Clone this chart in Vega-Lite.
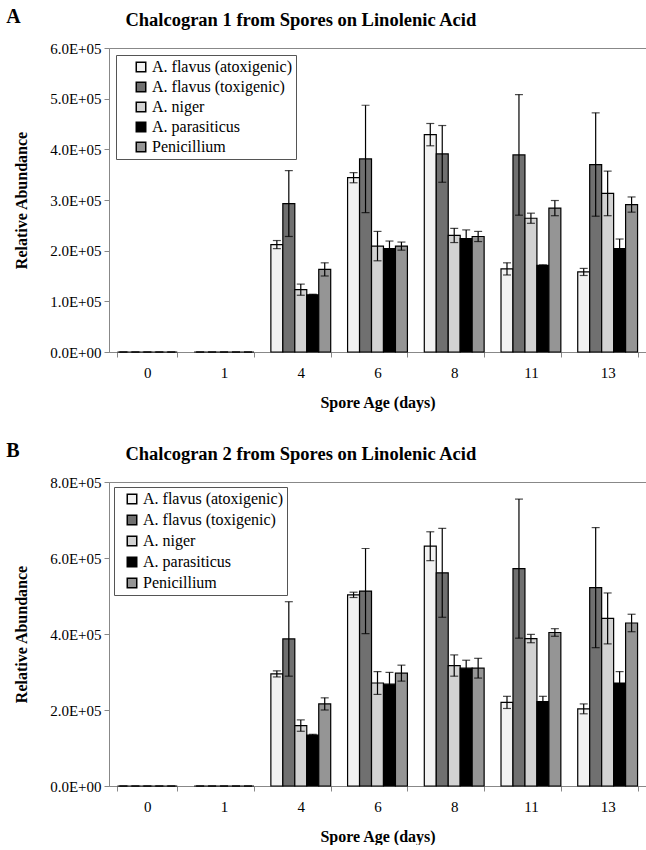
{
  "$schema": "https://vega.github.io/schema/vega-lite/v6.json",
  "background": "white",
  "padding": {"left": 6, "top": 7, "right": 0, "bottom": 0},
  "datasets": {
    "a": [
      {"day": "0", "species": "A. flavus (atoxigenic)", "value": 0, "err": 0},
      {"day": "0", "species": "A. flavus (toxigenic)", "value": 0, "err": 0},
      {"day": "0", "species": "A. niger", "value": 0, "err": 0},
      {"day": "0", "species": "A. parasiticus", "value": 0, "err": 0},
      {"day": "0", "species": "Penicillium", "value": 0, "err": 0},
      {"day": "1", "species": "A. flavus (atoxigenic)", "value": 0, "err": 0},
      {"day": "1", "species": "A. flavus (toxigenic)", "value": 0, "err": 0},
      {"day": "1", "species": "A. niger", "value": 0, "err": 0},
      {"day": "1", "species": "A. parasiticus", "value": 0, "err": 0},
      {"day": "1", "species": "Penicillium", "value": 0, "err": 0},
      {"day": "4", "species": "A. flavus (atoxigenic)", "value": 212000, "err": 8000},
      {"day": "4", "species": "A. flavus (toxigenic)", "value": 293000, "err": 65000},
      {"day": "4", "species": "A. niger", "value": 123000, "err": 11000},
      {"day": "4", "species": "A. parasiticus", "value": 113000, "err": 1000},
      {"day": "4", "species": "Penicillium", "value": 163000, "err": 13000},
      {"day": "6", "species": "A. flavus (atoxigenic)", "value": 344000, "err": 10000},
      {"day": "6", "species": "A. flavus (toxigenic)", "value": 381000, "err": 106000},
      {"day": "6", "species": "A. niger", "value": 209000, "err": 29000},
      {"day": "6", "species": "A. parasiticus", "value": 204000, "err": 15000},
      {"day": "6", "species": "Penicillium", "value": 209000, "err": 8000},
      {"day": "8", "species": "A. flavus (atoxigenic)", "value": 429000, "err": 22000},
      {"day": "8", "species": "A. flavus (toxigenic)", "value": 391000, "err": 56000},
      {"day": "8", "species": "A. niger", "value": 230000, "err": 14000},
      {"day": "8", "species": "A. parasiticus", "value": 224000, "err": 17000},
      {"day": "8", "species": "Penicillium", "value": 228000, "err": 10000},
      {"day": "11", "species": "A. flavus (atoxigenic)", "value": 164000, "err": 12000},
      {"day": "11", "species": "A. flavus (toxigenic)", "value": 389000, "err": 119000},
      {"day": "11", "species": "A. niger", "value": 264000, "err": 10000},
      {"day": "11", "species": "A. parasiticus", "value": 171000, "err": 1000},
      {"day": "11", "species": "Penicillium", "value": 284000, "err": 15000},
      {"day": "13", "species": "A. flavus (atoxigenic)", "value": 158000, "err": 7000},
      {"day": "13", "species": "A. flavus (toxigenic)", "value": 370000, "err": 102000},
      {"day": "13", "species": "A. niger", "value": 313000, "err": 44000},
      {"day": "13", "species": "A. parasiticus", "value": 204000, "err": 19000},
      {"day": "13", "species": "Penicillium", "value": 291000, "err": 15000}
    ],
    "b": [
      {"day": "0", "species": "A. flavus (atoxigenic)", "value": 0, "err": 0},
      {"day": "0", "species": "A. flavus (toxigenic)", "value": 0, "err": 0},
      {"day": "0", "species": "A. niger", "value": 0, "err": 0},
      {"day": "0", "species": "A. parasiticus", "value": 0, "err": 0},
      {"day": "0", "species": "Penicillium", "value": 0, "err": 0},
      {"day": "1", "species": "A. flavus (atoxigenic)", "value": 0, "err": 0},
      {"day": "1", "species": "A. flavus (toxigenic)", "value": 0, "err": 0},
      {"day": "1", "species": "A. niger", "value": 0, "err": 0},
      {"day": "1", "species": "A. parasiticus", "value": 0, "err": 0},
      {"day": "1", "species": "Penicillium", "value": 0, "err": 0},
      {"day": "4", "species": "A. flavus (atoxigenic)", "value": 295000, "err": 8000},
      {"day": "4", "species": "A. flavus (toxigenic)", "value": 387000, "err": 98000},
      {"day": "4", "species": "A. niger", "value": 159000, "err": 15000},
      {"day": "4", "species": "A. parasiticus", "value": 134000, "err": 2000},
      {"day": "4", "species": "Penicillium", "value": 216000, "err": 16000},
      {"day": "6", "species": "A. flavus (atoxigenic)", "value": 503000, "err": 7000},
      {"day": "6", "species": "A. flavus (toxigenic)", "value": 513000, "err": 112000},
      {"day": "6", "species": "A. niger", "value": 271000, "err": 30000},
      {"day": "6", "species": "A. parasiticus", "value": 268000, "err": 31000},
      {"day": "6", "species": "Penicillium", "value": 297000, "err": 21000},
      {"day": "8", "species": "A. flavus (atoxigenic)", "value": 631000, "err": 38000},
      {"day": "8", "species": "A. flavus (toxigenic)", "value": 561000, "err": 117000},
      {"day": "8", "species": "A. niger", "value": 317000, "err": 28000},
      {"day": "8", "species": "A. parasiticus", "value": 310000, "err": 21000},
      {"day": "8", "species": "Penicillium", "value": 310000, "err": 26000},
      {"day": "11", "species": "A. flavus (atoxigenic)", "value": 220000, "err": 16000},
      {"day": "11", "species": "A. flavus (toxigenic)", "value": 572000, "err": 183000},
      {"day": "11", "species": "A. niger", "value": 388000, "err": 11000},
      {"day": "11", "species": "A. parasiticus", "value": 222000, "err": 14000},
      {"day": "11", "species": "Penicillium", "value": 404000, "err": 10000},
      {"day": "13", "species": "A. flavus (atoxigenic)", "value": 203000, "err": 13000},
      {"day": "13", "species": "A. flavus (toxigenic)", "value": 522000, "err": 158000},
      {"day": "13", "species": "A. niger", "value": 441000, "err": 67000},
      {"day": "13", "species": "A. parasiticus", "value": 271000, "err": 30000},
      {"day": "13", "species": "Penicillium", "value": 429000, "err": 23000}
    ]
  },
  "config": {
    "font": "Liberation Serif, Times New Roman, serif",
    "view": {"stroke": "#888", "strokeWidth": 1},
    "axis": {
      "labelFont": "Liberation Serif, Times New Roman, serif", "titleFont": "Liberation Serif, Times New Roman, serif",
      "labelFontSize": 15, "titleFontSize": 16, "titleFontWeight": "bold",
      "labelColor": "black", "titleColor": "black",
      "domainColor": "#888", "tickColor": "#888", "grid": false, "tickSize": 5, "labelOverlap": false
    },
    "title": {"font": "Liberation Serif, Times New Roman, serif", "fontSize": 18.5, "fontWeight": "bold", "color": "black"},
    "legend": {
      "orient": "top-left", "offset": 7, "title": null,
      "strokeColor": "#555", "fillColor": "white", "padding": 4,
      "labelFont": "Liberation Serif, Times New Roman, serif", "labelFontSize": 16, "labelColor": "black",
      "symbolType": "square", "symbolSize": 90, "symbolStrokeColor": "black", "symbolStrokeWidth": 1.5,
      "rowPadding": 5, "labelOffset": 3, "symbolOpacity": 1, "labelLimit": 400
    }
  },
  "spacing": 30,
  "vconcat": [
    {
      "title": {"text": "A", "anchor": "start", "frame": "bounds", "offset": -17, "fontSize": 20, "dx": -7},
      "vconcat": [
        {
          "title": {"text": "Chalcogran 1 from Spores on Linolenic Acid", "anchor": "middle", "frame": "bounds", "offset": 12, "dx": -29},
          "width": 537, "height": 304,
          "data": {"name": "a"},
          "encoding": {
            "x": {"field": "day", "type": "nominal", "sort": ["0", "1", "4", "6", "8", "11", "13"],
                  "scale": {"paddingInner": 0.22, "paddingOuter": 0.11},
                  "axis": {"title": "Spore Age (days)", "labelAngle": 0, "tickBand": "extent", "labelPadding": 8, "titlePadding": 14}},
            "xOffset": {"field": "species", "type": "nominal", "sort": ["A. flavus (atoxigenic)", "A. flavus (toxigenic)", "A. niger", "A. parasiticus", "Penicillium"]}
          },
          "layer": [
            {
              "mark": {"type": "bar", "stroke": "black", "strokeWidth": 1.2},
              "encoding": {
                "y": {"field": "value", "type": "quantitative", "scale": {"domain": [0, 600000]}, "title": "Relative Abundance",
                      "axis": {"values": [0, 100000, 200000, 300000, 400000, 500000, 600000],
                               "labelExpr": "replace(upper(format(datum.value, '.1e')), 'E+', 'E+0')", "titlePadding": 20, "labelPadding": 3}},
                "fill": {"field": "species", "type": "nominal",
                         "sort": ["A. flavus (atoxigenic)", "A. flavus (toxigenic)", "A. niger", "A. parasiticus", "Penicillium"],
                         "scale": {"range": ["#f2f2f2", "#707070", "#d2d2d2", "#000000", "#959595"]},
                         "legend": {"orient": "top-left", "symbolOffset": 13, "rowPadding": 4, "labelExpr": "datum.label + '       '"}}
              }
            },
            {
              "mark": {"type": "errorbar", "ticks": {"size": 8, "thickness": 1.2, "color": "black"}, "rule": {"color": "black", "strokeWidth": 1.2}},
              "encoding": {
                "y": {"field": "value", "type": "quantitative", "title": "Relative Abundance"},
                "yError": {"field": "err"}
              }
            }
          ]
        }
      ]
    },
    {
      "title": {"text": "B", "anchor": "start", "frame": "bounds", "offset": -17, "fontSize": 20, "dx": -7},
      "vconcat": [
        {
          "title": {"text": "Chalcogran 2 from Spores on Linolenic Acid", "anchor": "middle", "frame": "bounds", "offset": 12, "dx": -29},
          "width": 537, "height": 304,
          "data": {"name": "b"},
          "encoding": {
            "x": {"field": "day", "type": "nominal", "sort": ["0", "1", "4", "6", "8", "11", "13"],
                  "scale": {"paddingInner": 0.22, "paddingOuter": 0.11},
                  "axis": {"title": "Spore Age (days)", "labelAngle": 0, "tickBand": "extent", "labelPadding": 8, "titlePadding": 14}},
            "xOffset": {"field": "species", "type": "nominal", "sort": ["A. flavus (atoxigenic)", "A. flavus (toxigenic)", "A. niger", "A. parasiticus", "Penicillium"]}
          },
          "layer": [
            {
              "mark": {"type": "bar", "stroke": "black", "strokeWidth": 1.2},
              "encoding": {
                "y": {"field": "value", "type": "quantitative", "scale": {"domain": [0, 800000]}, "title": "Relative Abundance",
                      "axis": {"values": [0, 100000, 200000, 300000, 400000, 500000, 600000, 700000, 800000],
                               "labelExpr": "replace(upper(format(datum.value, '.1e')), 'E+', 'E+0')", "titlePadding": 20, "labelPadding": 3}},
                "fill": {"field": "species", "type": "nominal",
                         "sort": ["A. flavus (atoxigenic)", "A. flavus (toxigenic)", "A. niger", "A. parasiticus", "Penicillium"],
                         "scale": {"range": ["#f2f2f2", "#707070", "#d2d2d2", "#000000", "#959595"]},
                         "legend": {"orient": "top-left", "offset": 5, "symbolOffset": 6, "labelExpr": "datum.label + '    '"}}
              }
            },
            {
              "mark": {"type": "errorbar", "ticks": {"size": 8, "thickness": 1.2, "color": "black"}, "rule": {"color": "black", "strokeWidth": 1.2}},
              "encoding": {
                "y": {"field": "value", "type": "quantitative", "title": "Relative Abundance"},
                "yError": {"field": "err"}
              }
            }
          ]
        }
      ]
    }
  ],
  "resolve": {"legend": {"fill": "independent"}}
}
